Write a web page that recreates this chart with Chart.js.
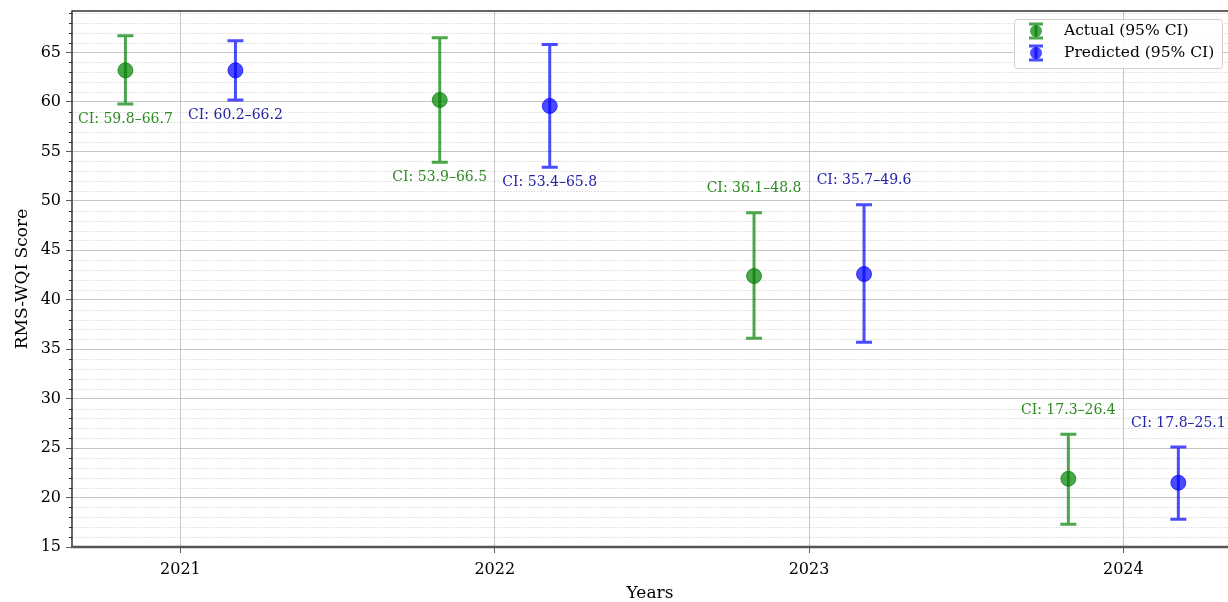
<!DOCTYPE html>
<html>
<head>
<meta charset="utf-8">
<script src="https://cdn.jsdelivr.net/npm/chart.js@4"></script>
<style>
  html, body { margin: 0; padding: 0; background: #fff; }
  canvas { display: block; }
</style>
</head>
<body>
<canvas id="ciChart" width="1228" height="602"></canvas>
<script>
const years = [2021, 2022, 2023, 2024];
const actualMean = [63.2, 60.2, 42.4, 21.9];
const actualLow = [59.8, 53.9, 36.1, 17.3];
const actualHigh = [66.7, 66.5, 48.8, 26.4];
const predMean = [63.2, 59.6, 42.6, 21.5];
const predLow = [60.2, 53.4, 35.7, 17.8];
const predHigh = [66.2, 65.8, 49.6, 25.1];
const yTicks = [15, 20, 25, 30, 35, 40, 45, 50, 55, 60, 65];
const labelBelow = [true, true, false, false];

const offset = 0.175;
const FONT = "'DejaVu Serif', serif";
const green = "rgba(0,128,0,0.7)";
const blue = "rgba(0,0,255,0.7)";
const greenText = "#2e8b22";
const blueText = "#2323a8";

const series = [
  { name: "Actual (95% CI)", mean: actualMean, low: actualLow, high: actualHigh, dx: -offset, color: green, text: greenText },
  { name: "Predicted (95% CI)", mean: predMean, low: predLow, high: predHigh, dx: offset, color: blue, text: blueText }
];

function fmt(v) { return v.toFixed(1); }

const errorBars = {
  id: "errorBars",
  beforeDatasetsDraw(chart) {
    const { ctx, chartArea: a, scales: { x, y } } = chart;
    ctx.save();
    // minor dotted grid
    ctx.strokeStyle = "rgba(176,176,176,0.6)";
    ctx.lineWidth = 0.8;
    ctx.setLineDash([1.5, 1.5]);
    for (let v = 16; v <= 69; v++) {
      if (v % 5 === 0) continue;
      const py = Math.round(y.getPixelForValue(v)) + 0.5;
      ctx.beginPath(); ctx.moveTo(a.left, py); ctx.lineTo(a.right, py); ctx.stroke();
    }
    ctx.setLineDash([]);
    // error bars
    series.forEach(s => {
      ctx.strokeStyle = s.color;
      ctx.lineWidth = 3;
      years.forEach((yr, i) => {
        const px = x.getPixelForValue(yr + s.dx);
        const lo = y.getPixelForValue(s.low[i]);
        const hi = y.getPixelForValue(s.high[i]);
        ctx.beginPath();
        ctx.moveTo(px, lo); ctx.lineTo(px, hi);
        ctx.moveTo(px - 8, lo); ctx.lineTo(px + 8, lo);
        ctx.moveTo(px - 8, hi); ctx.lineTo(px + 8, hi);
        ctx.stroke();
      });
    });
    ctx.restore();
  },
  afterDatasetsDraw(chart) {
    const { ctx, scales: { x, y } } = chart;
    ctx.save();
    ctx.font = "14px " + FONT;
    ctx.textAlign = "center";
    ctx.textBaseline = "middle";
    series.forEach(s => {
      ctx.fillStyle = s.text;
      years.forEach((yr, i) => {
        const px = x.getPixelForValue(yr + s.dx);
        const txt = "CI: " + fmt(s.low[i]) + "\u2013" + fmt(s.high[i]);
        const py = labelBelow[i] ? y.getPixelForValue(s.low[i]) + 15 : y.getPixelForValue(s.high[i]) - 24;
        ctx.fillText(txt, px, py);
      });
    });
    ctx.restore();
  },
  afterDraw(chart) {
    const { ctx, chartArea: a, scales: { y } } = chart;
    ctx.save();
    // minor y ticks
    ctx.strokeStyle = "#333";
    ctx.lineWidth = 1;
    for (let v = 16; v <= 69; v++) {
      if (v % 5 === 0) continue;
      const py = Math.round(y.getPixelForValue(v)) + 0.5;
      ctx.beginPath(); ctx.moveTo(a.left - 3, py); ctx.lineTo(a.left, py); ctx.stroke();
    }
    // frame
    ctx.strokeStyle = "#333";
    ctx.lineWidth = 1.5;
    ctx.beginPath();
    ctx.moveTo(a.left, a.bottom); ctx.lineTo(a.left, a.top); ctx.lineTo(a.right, a.top);
    ctx.stroke();
    ctx.strokeStyle = "#555";
    ctx.lineWidth = 2.5;
    ctx.beginPath(); ctx.moveTo(a.left - 1, a.bottom); ctx.lineTo(a.right, a.bottom); ctx.stroke();

    // legend
    const lx = 1014, ly = 19, lw = 208, lh = 49;
    ctx.fillStyle = "rgba(255,255,255,0.85)";
    ctx.strokeStyle = "#d0d0d0";
    ctx.lineWidth = 1;
    ctx.beginPath();
    ctx.roundRect(lx + 0.5, ly + 0.5, lw, lh, 3);
    ctx.fill(); ctx.stroke();
    ctx.font = "15.5px " + FONT;
    ctx.textAlign = "left";
    ctx.textBaseline = "middle";
    series.forEach((s, k) => {
      const cy = ly + 12 + k * 22;
      const mx = lx + 22;
      ctx.strokeStyle = s.color;
      ctx.lineWidth = 3;
      ctx.beginPath();
      ctx.moveTo(mx, cy - 7); ctx.lineTo(mx, cy + 7);
      ctx.moveTo(mx - 7, cy - 7); ctx.lineTo(mx + 7, cy - 7);
      ctx.moveTo(mx - 7, cy + 7); ctx.lineTo(mx + 7, cy + 7);
      ctx.stroke();
      ctx.fillStyle = s.color;
      ctx.beginPath(); ctx.arc(mx, cy, 6, 0, Math.PI * 2); ctx.fill();
      ctx.fillStyle = "#000";
      ctx.fillText(s.name, lx + 50, cy);
    });
    ctx.restore();
  }
};

const ctx = document.getElementById("ciChart").getContext("2d");
new Chart(ctx, {
  type: "scatter",
  data: {
    datasets: series.map(s => ({
      label: s.name,
      data: years.map((yr, i) => ({ x: yr + s.dx, y: s.mean[i] })),
      backgroundColor: s.color,
      borderColor: s.color,
      borderWidth: 1,
      pointRadius: 7.5,
      pointHoverRadius: 7.5
    }))
  },
  options: {
    responsive: false,
    animation: false,
    devicePixelRatio: 1,
    layout: { autoPadding: false, padding: { top: 11, left: 0, right: 0, bottom: 0 } },
    plugins: { legend: { display: false }, tooltip: { enabled: false } },
    scales: {
      x: {
        type: "linear",
        min: 2020.655,
        max: 2024.333,
        afterBuildTicks: s => { s.ticks = years.map(v => ({ value: v })); },
        afterFit: s => { s.height = 55; s.paddingLeft = 0; s.paddingRight = 0; },
        ticks: { callback: v => String(v), color: "#000", font: { family: FONT, size: 16 }, padding: 7, maxRotation: 0 },
        grid: { color: "#b8b8b8", lineWidth: 0.8, tickLength: 6, tickColor: "#333" },
        border: { display: false },
        title: { display: true, text: "Years", color: "#000", font: { family: FONT, size: 17, lineHeight: 1 }, padding: { top: 0, bottom: 0 } }
      },
      y: {
        min: 15,
        max: 69.2,
        afterBuildTicks: s => { s.ticks = yTicks.map(v => ({ value: v })); },
        afterFit: s => { s.width = 72; s.paddingTop = 0; s.paddingBottom = 0; },
        ticks: { color: "#000", font: { family: FONT, size: 16 }, padding: 5 },
        grid: { color: "#b8b8b8", lineWidth: 0.8, tickLength: 6, tickColor: "#333" },
        border: { display: false },
        title: { display: true, text: "RMS-WQI Score", color: "#000", font: { family: FONT, size: 17 }, padding: { top: 12, bottom: 0 } }
      }
    }
  },
  plugins: [errorBars]
});
</script>
</body>
</html>
